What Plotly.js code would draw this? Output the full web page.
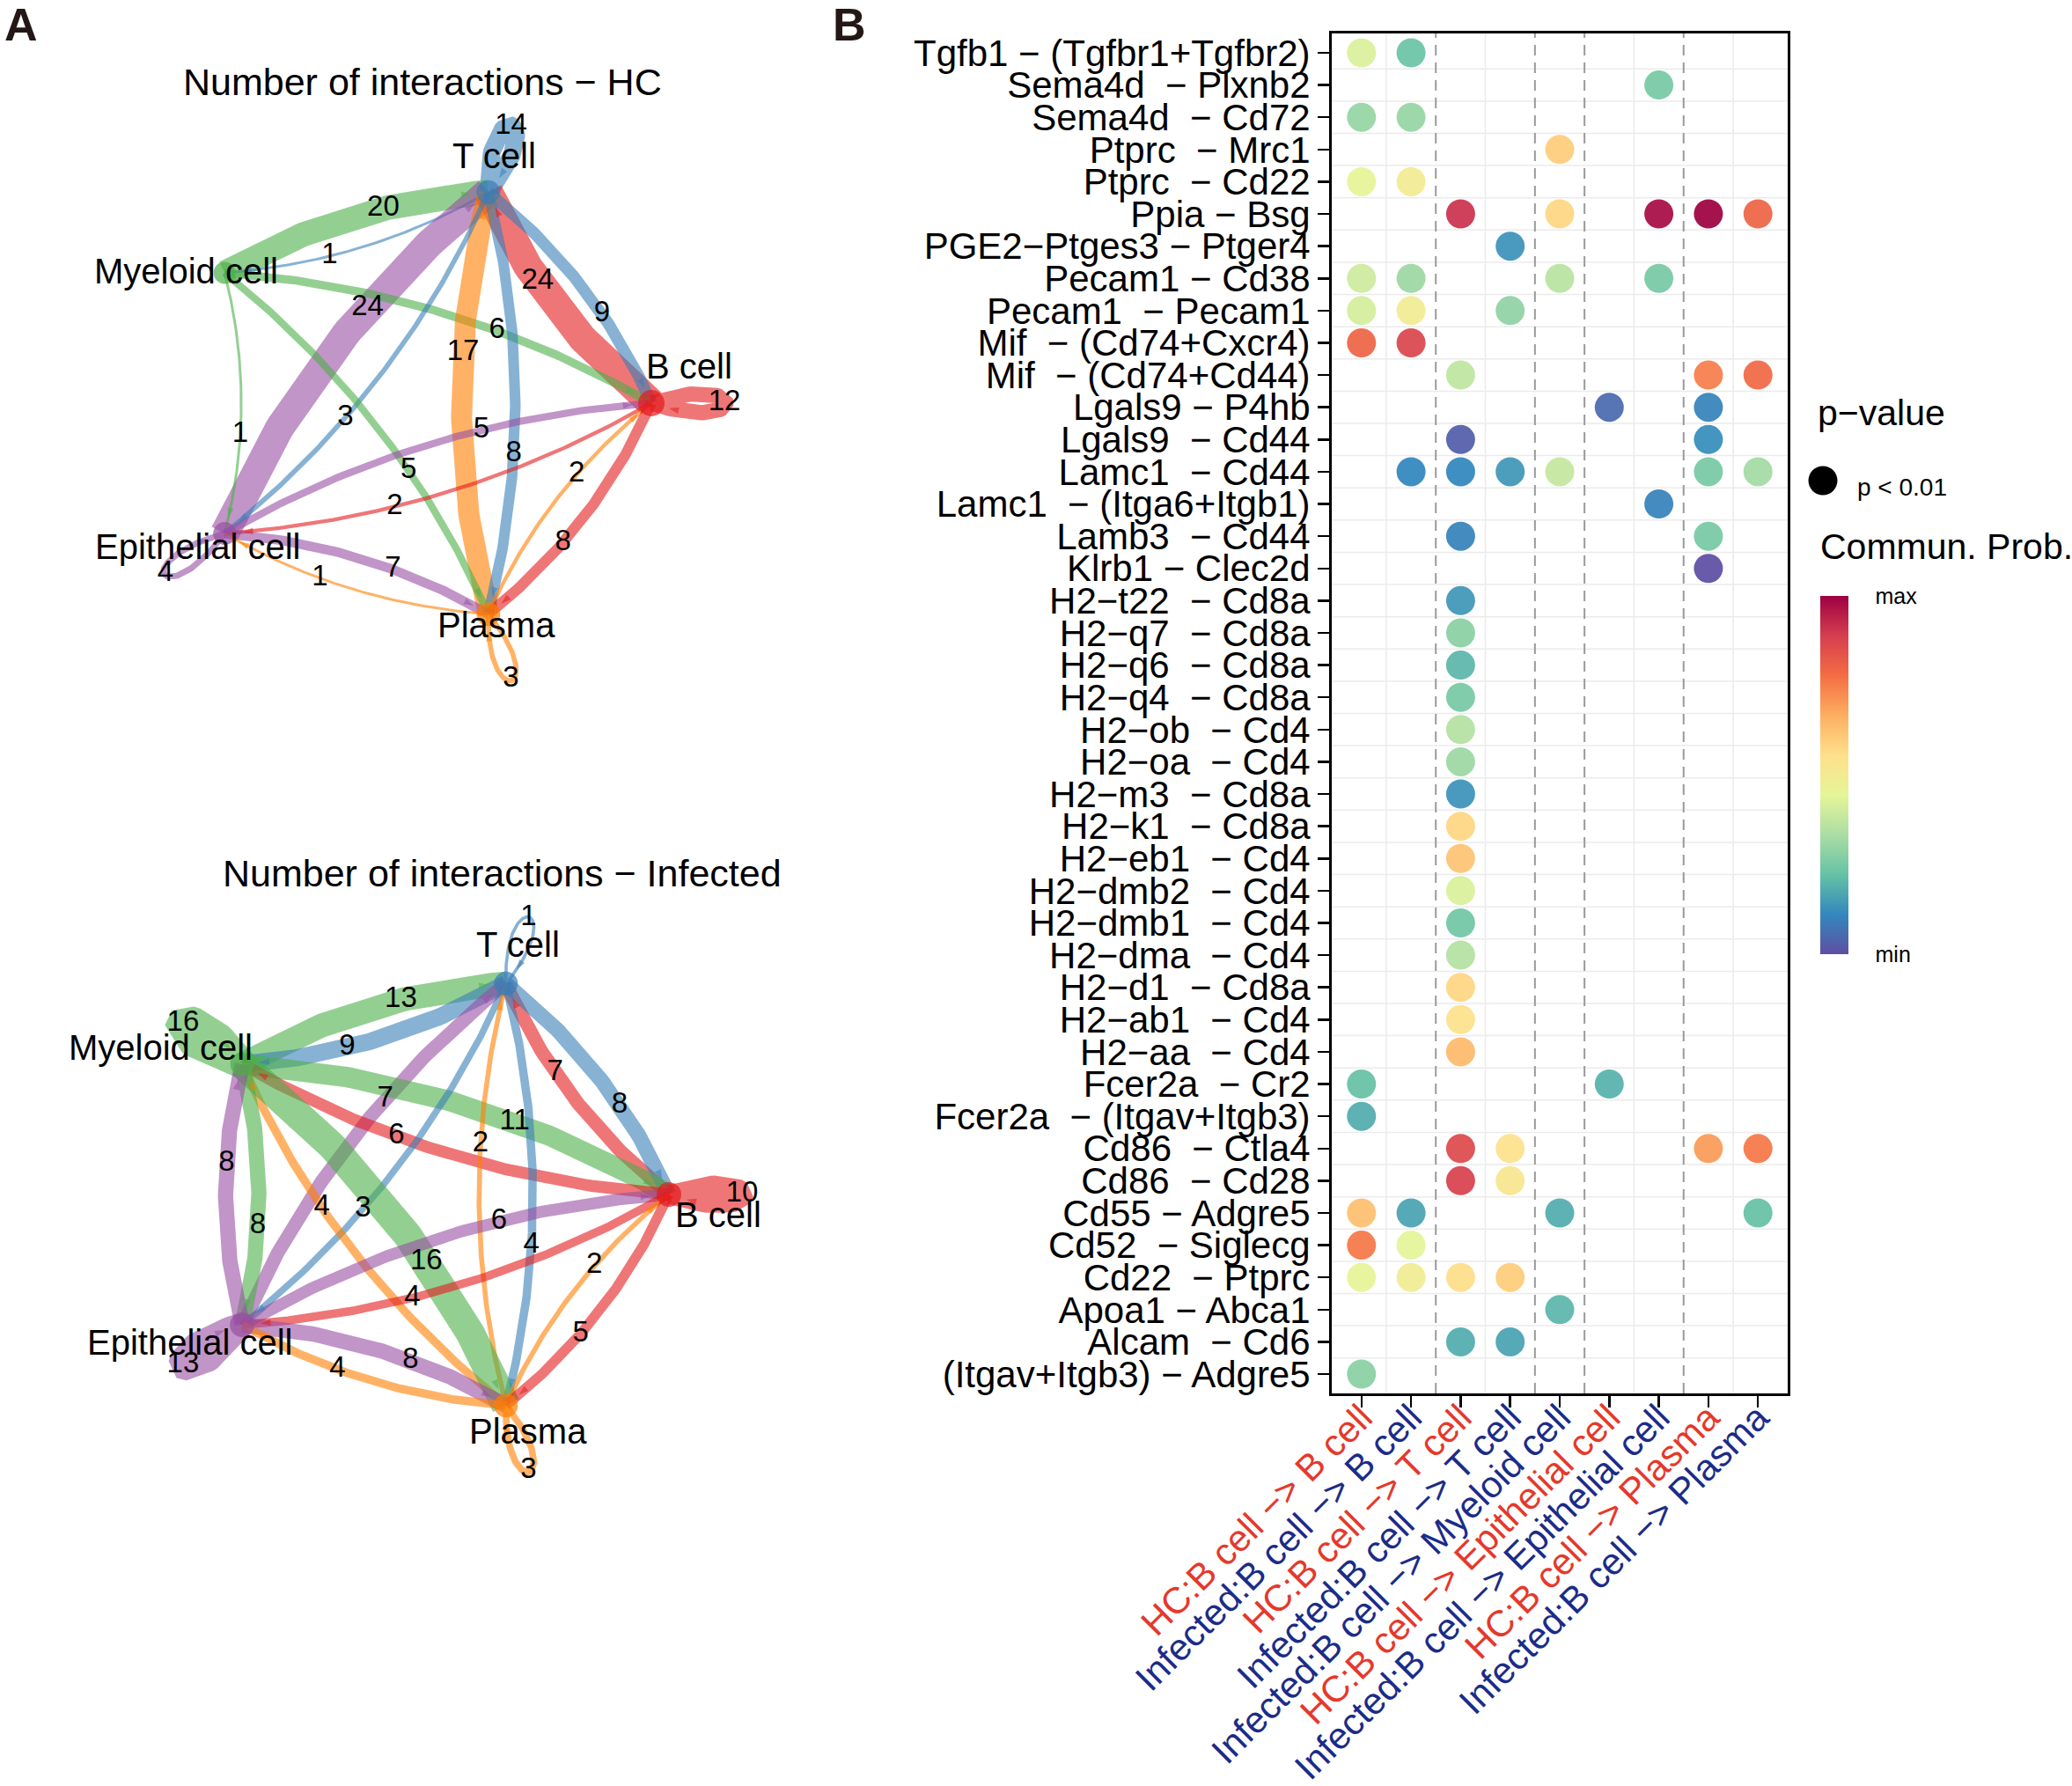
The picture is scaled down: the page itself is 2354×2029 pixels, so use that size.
<!DOCTYPE html>
<html><head><meta charset="utf-8">
<script src="https://cdn.plot.ly/plotly-3.0.1.min.js"></script>
<style>body{margin:0;background:#fff}</style>
</head><body><div id="chart" style="width:2354px;height:2029px"></div>
<script>
// ================= DATA =================
// Panel A: cell groups (circle-layout order) and their colours
const cellGroups = ["B cell", "T cell", "Myeloid cell", "Epithelial cell", "Plasma"];
const groupColors = ["#E41A1C", "#377EB8", "#4DAF4A", "#984EA3", "#FF7F00"];

// HC network: number of interactions source -> target
const hcSource = ["T cell","Myeloid cell","T cell","Epithelial cell","B cell","T cell","Myeloid cell","Plasma","T cell","Myeloid cell","T cell","Myeloid cell","Epithelial cell","B cell","Plasma","B cell","B cell","Epithelial cell","Epithelial cell","Plasma","Plasma"];
const hcTarget = ["T cell","T cell","Myeloid cell","T cell","T cell","B cell","B cell","T cell","Plasma","Epithelial cell","Epithelial cell","Plasma","B cell","Epithelial cell","B cell","Plasma","B cell","Epithelial cell","Plasma","Epithelial cell","Plasma"];
const hcCount  = [14,20,1,24,24,9,6,17,8,1,3,5,5,2,2,8,12,4,7,1,3];

// Infected network
const infSource = ["T cell","Myeloid cell","T cell","Myeloid cell","B cell","T cell","Epithelial cell","Myeloid cell","B cell","T cell","Plasma","T cell","Plasma","Myeloid cell","Myeloid cell","Epithelial cell","Epithelial cell","B cell","Plasma","B cell","Epithelial cell","Epithelial cell","Plasma","B cell","Plasma"];
const infTarget = ["T cell","T cell","Myeloid cell","Myeloid cell","T cell","B cell","T cell","B cell","Myeloid cell","Epithelial cell","T cell","Plasma","Myeloid cell","Plasma","Epithelial cell","Myeloid cell","B cell","Epithelial cell","B cell","Plasma","Epithelial cell","Plasma","Epithelial cell","B cell","Plasma"];
const infCount  = [1,13,9,16,7,8,7,11,6,3,2,4,4,16,8,8,6,4,2,5,13,8,4,10,3];

// Panel B: ligand-receptor pairs (rows, top to bottom)
const interactionPairs = [
 "Tgfb1 − (Tgfbr1+Tgfbr2)","Sema4d  − Plxnb2","Sema4d  − Cd72","Ptprc  − Mrc1","Ptprc  − Cd22",
 "Ppia − Bsg","PGE2−Ptges3 − Ptger4","Pecam1 − Cd38","Pecam1  − Pecam1","Mif  − (Cd74+Cxcr4)",
 "Mif  − (Cd74+Cd44)","Lgals9 − P4hb","Lgals9  − Cd44","Lamc1  − Cd44","Lamc1  − (Itga6+Itgb1)",
 "Lamb3  − Cd44","Klrb1 − Clec2d","H2−t22  − Cd8a","H2−q7  − Cd8a","H2−q6  − Cd8a",
 "H2−q4  − Cd8a","H2−ob  − Cd4","H2−oa  − Cd4","H2−m3  − Cd8a","H2−k1  − Cd8a",
 "H2−eb1  − Cd4","H2−dmb2  − Cd4","H2−dmb1  − Cd4","H2−dma  − Cd4","H2−d1  − Cd8a",
 "H2−ab1  − Cd4","H2−aa  − Cd4","Fcer2a  − Cr2","Fcer2a  − (Itgav+Itgb3)","Cd86  − Ctla4",
 "Cd86  − Cd28","Cd55 − Adgre5","Cd52  − Siglecg","Cd22  − Ptprc","Apoa1 − Abca1",
 "Alcam  − Cd6","(Itgav+Itgb3) − Adgre5"];
// columns: condition + target of B cell signalling
const pairCondition = ["HC","Infected","HC","Infected","Infected","HC","Infected","HC","Infected"];
const pairTarget = ["B cell","B cell","T cell","T cell","Myeloid cell","Epithelial cell","Epithelial cell","Plasma","Plasma"];
// significant dots: row index, column index, communication probability (scaled min..max = 0..1)
const dotRow = [0,0, 1, 2,2, 3, 4,4, 5,5,5,5,5, 6, 7,7,7,7, 8,8,8, 9,9, 10,10,10, 11,11, 12,12,
  13,13,13,13,13,13, 14, 15,15, 16, 17,18,19,20,21,22,23,24,25,26,27,28,29,30,31,
  32,32, 33, 34,34,34,34, 35,35, 36,36,36,36, 37,37, 38,38,38,38, 39, 40,40, 41];
const dotCol = [0,1, 6, 0,1, 4, 0,1, 2,4,6,7,8, 3, 0,1,4,6, 0,1,3, 0,1, 2,7,8, 5,7, 2,7,
  1,2,3,4,7,8, 6, 2,7, 7, 2,2,2,2,2,2,2,2,2,2,2,2,2,2,2,
  0,5, 0, 2,3,7,8, 2,3, 0,1,4,8, 0,1, 0,1,2,3, 4, 2,3, 0];
const dotProb = [0.42,0.23, 0.25, 0.30,0.30, 0.60, 0.45,0.50, 0.91,0.58,0.98,1.00,0.80, 0.13, 0.40,0.31,0.36,0.25, 0.41,0.49,0.29, 0.80,0.87, 0.37,0.75,0.79, 0.05,0.10, 0.03,0.12,
  0.11,0.11,0.14,0.38,0.25,0.32, 0.10, 0.10,0.25, 0.00, 0.14,0.28,0.20,0.25,0.35,0.31,0.13,0.58,0.62,0.42,0.24,0.35,0.58,0.55,0.64,
  0.22,0.19, 0.18, 0.86,0.55,0.70,0.76, 0.88,0.53, 0.63,0.16,0.18,0.22, 0.76,0.44, 0.45,0.49,0.56,0.60, 0.20, 0.18,0.16, 0.28];
const spectral10 = ["#9E0142","#D53E4F","#F46D43","#FDAE61","#FEE08B","#E6F598","#ABDDA4","#66C2A5","#3288BD","#5E4FA2"];

// ================= STYLE / GEOMETRY =================
const W = 2354, H = 2029;
const FONT = "Liberation Sans, Arial, Helvetica, sans-serif";
const condColor = {HC: "#E5392B", Infected: "#1B2C88"};
const nets = [
  {src:hcSource, tgt:hcTarget, cnt:hcCount, title:"Number of interactions − HC",
   cx:472, cy:458, rx:268, ry:252, top:0, bottom:930, titleX:480, titleY:93,
   nodeSize:[30,27,25,26,27],
   labelOff:[[43,-42],[7,-41],[-44,-2],[-31,15],[9,12]]},
  {src:infSource, tgt:infTarget, cnt:infCount, title:"Number of interactions − Infected",
   cx:492, cy:1357, rx:268, ry:252, top:930, bottom:2029, titleX:570, titleY:992,
   nodeSize:[28,27,27,28,27],
   labelOff:[[56,23],[14,-44],[-93,-19],[-60,20],[25,29]]}
];
const netLeft = 0, netRight = 1000;

function rgba(hex, a){const n=parseInt(hex.slice(1),16);return `rgba(${(n>>16)&255},${(n>>8)&255},${n&255},${a})`;}

const traces = [];
const arrowTraces = [];
const annotations = [];
const shapes = [];
const layoutAxes = {};

nets.forEach((net, k) => {
  const xa = "x" + (k + 2), ya = "y" + (k + 2);
  const pos = cellGroups.map((g, i) => [Math.cos(2*Math.PI*i/cellGroups.length), Math.sin(2*Math.PI*i/cellGroups.length)]);
  const maxC = Math.max(...net.cnt);
  const labX = [], labY = [], labT = [];
  net.src.forEach((s, e) => {
    const si = cellGroups.indexOf(s), ti = cellGroups.indexOf(net.tgt[e]);
    const col = groupColors[si];
    const width = 1.7 + net.cnt[e] / maxC * 31.3;
    let pts = [];
    if (si === ti) {
      const p = pos[si];
      const ang = Math.atan2(p[1], p[0]);
      const rot = (v) => [p[0] + v[0]*Math.cos(ang) - v[1]*Math.sin(ang), p[1] + v[0]*Math.sin(ang) + v[1]*Math.cos(ang)];
      const P0 = p, P1 = rot([0.42, 0.15]), P2 = rot([0.42, -0.15]), P3 = p;
      for (let i = 0; i <= 80; i++) {
        const t = i/80, u = 1-t;
        pts.push([u*u*u*P0[0]+3*u*u*t*P1[0]+3*u*t*t*P2[0]+t*t*t*P3[0], u*u*u*P0[1]+3*u*u*t*P1[1]+3*u*t*t*P2[1]+t*t*t*P3[1]]);
      }
      const tip = rot([0.31, 0]);
      labX.push(tip[0]); labY.push(tip[1]); labT.push(String(net.cnt[e]));
    } else {
      const p0 = pos[si], p1 = pos[ti];
      const dx = p1[0]-p0[0], dy = p1[1]-p0[1];
      const c = [(p0[0]+p1[0])/2 - 0.12*dy, (p0[1]+p1[1])/2 + 0.12*dx];
      const q = (t) => {const u=1-t; return [u*u*p0[0]+2*u*t*c[0]+t*t*p1[0], u*u*p0[1]+2*u*t*c[1]+t*t*p1[1]];};
      for (let i = 0; i <= 100; i++) pts.push(q(i/100));
      const lp = q(0.62);
      labX.push(lp[0]); labY.push(lp[1]); labT.push(String(net.cnt[e]));
    }
    traces.push({type:"scatter", mode:"lines", xaxis:xa, yaxis:ya,
      x: pts.map(p=>p[0]), y: pts.map(p=>p[1]), hoverinfo:"skip", cliponaxis:false,
      line:{color: rgba(col, 0.6), width: width}});
    // small arrowhead where the edge meets the target vertex
    const pt = pos[ti];
    let endI = pts.length-1;
    while (endI > 1 && Math.hypot(pts[endI][0]-pt[0], pts[endI][1]-pt[1]) < 0.065) endI--;
    arrowTraces.push({type:"scatter", mode:"markers", xaxis:xa, yaxis:ya, hoverinfo:"skip", cliponaxis:false,
      x:[pts[endI-2][0], pts[endI][0]], y:[pts[endI-2][1], pts[endI][1]],
      marker:{symbol:"arrow", angleref:"previous", size:[0, 12], color: rgba(col, 0.75), line:{width:0}}});
  });
  // vertices
  arrowTraces.push({type:"scatter", mode:"markers", xaxis:xa, yaxis:ya, hoverinfo:"skip", cliponaxis:false,
    x: pos.map(p=>p[0]), y: pos.map(p=>p[1]),
    marker:{size:net.nodeSize, color:groupColors, line:{width:0}}});
  // edge labels
  arrowTraces.push({type:"scatter", mode:"text", xaxis:xa, yaxis:ya, hoverinfo:"skip", cliponaxis:false,
    x:labX, y:labY, text:labT, textposition:"middle center", textfont:{size:33, color:"#000", family:FONT}});
  // vertex labels
  cellGroups.forEach((g, i) => {
    annotations.push({xref:xa, yref:ya, x:pos[i][0], y:pos[i][1], text:g, showarrow:false,
      xanchor:"center", yanchor:"middle", xshift:net.labelOff[i][0], yshift:-net.labelOff[i][1],
      font:{size:40, color:"#000", family:FONT}});
  });
  annotations.push({xref:"paper", yref:"paper", x:net.titleX/W, y:1-net.titleY/H, text:net.title, showarrow:false,
    xanchor:"center", yanchor:"middle", font:{size:43, color:"#000", family:FONT}});
  layoutAxes["xaxis"+(k+2)] = {domain:[netLeft/W, netRight/W], range:[(netLeft-net.cx)/net.rx, (netRight-net.cx)/net.rx],
    visible:false, fixedrange:true, anchor:ya};
  layoutAxes["yaxis"+(k+2)] = {domain:[1-net.bottom/H, 1-net.top/H], range:[(net.cy-net.bottom)/net.ry, (net.cy-net.top)/net.ry],
    visible:false, fixedrange:true, anchor:xa};
});

// ---- Panel B: bubble plot ----
const colorscale = spectral10.slice().reverse().map((c, i, a) => [i/(a.length-1), c]);
const dotTrace = {type:"scatter", mode:"markers", xaxis:"x", yaxis:"y", x:dotCol, y:dotRow, hoverinfo:"skip",
  marker:{size:33, color:dotProb, colorscale:colorscale, cmin:0, cmax:1, line:{width:0}, opacity:0.93,
    colorbar:{thickness:32, thicknessmode:"pixels", len:407/H, lenmode:"fraction",
      x:2068/W, xanchor:"left", y:1-677/H, yanchor:"top", xpad:0, ypad:0, outlinewidth:0,
      tickvals:[0,1], ticktext:["min","max"], ticks:"outside", ticklen:26, tickcolor:"rgba(0,0,0,0)",
      tickfont:{size:25, color:"#000", family:FONT}}}};

const colLabels = pairCondition.map((c, i) => `<span style="color:${condColor[c]}">${c}:B cell −&gt; ${pairTarget[i]}</span>`);
const rowLabels = interactionPairs.map(s => s.replace(/  /g, "\u00A0 "));

for (let i = 0; i < interactionPairs.length - 1; i++) {
  shapes.push({type:"line", layer:"below", xref:"x domain", yref:"y", x0:0, x1:1, y0:i+0.5, y1:i+0.5, line:{color:"#EBEBEB", width:1.5}});
}
for (let j = 0; j < pairTarget.length - 1; j++) {
  const sep = pairTarget[j] !== pairTarget[j+1];
  shapes.push({type:"line", layer:"below", xref:"x", yref:"y domain", x0:j+0.5, x1:j+0.5, y0:0, y1:1,
    line: sep ? {color:"#9A9A9A", width:2, dash:"12px,8px"} : {color:"#EBEBEB", width:1.5}});
}
shapes.push({type:"circle", xref:"paper", yref:"paper", xsizemode:"pixel", ysizemode:"pixel",
  xanchor:2071/W, yanchor:1-546/H, x0:-16.5, x1:16.5, y0:-16.5, y1:16.5, fillcolor:"#000", line:{width:0}});

annotations.push(
  {xref:"paper", yref:"paper", x:2063/W, y:1-469/H, text:"p−value", showarrow:false, xanchor:"left", yanchor:"middle", font:{size:41, color:"#000", family:FONT}},
  {xref:"paper", yref:"paper", x:2108/W, y:1-553/H, text:"p &lt; 0.01", showarrow:false, xanchor:"left", yanchor:"middle", font:{size:28, color:"#000", family:FONT}},
  {xref:"paper", yref:"paper", x:2066/W, y:1-621/H, text:"Commun. Prob.", showarrow:false, xanchor:"left", yanchor:"middle", font:{size:41, color:"#000", family:FONT}},
  {xref:"paper", yref:"paper", x:24/W, y:1-28/H, text:"<b>A</b>", showarrow:false, xanchor:"center", yanchor:"middle", font:{size:52, color:"#231815", family:FONT}},
  {xref:"paper", yref:"paper", x:965/W, y:1-28/H, text:"<b>B</b>", showarrow:false, xanchor:"center", yanchor:"middle", font:{size:52, color:"#231815", family:FONT}}
);

const layout = Object.assign({
  width: W, height: H, margin:{l:0, r:0, t:0, b:0, pad:0},
  paper_bgcolor:"#fff", plot_bgcolor:"rgba(0,0,0,0)", showlegend:false,
  font:{family:FONT, color:"#000"},
  xaxis:{domain:[1513/W, 2031/W], range:[-0.6, pairTarget.length - 0.4], anchor:"y",
    tickmode:"array", tickvals:pairTarget.map((_, i) => i), ticktext:colLabels, tickangle:-45,
    tickfont:{size:42, family:FONT}, ticks:"outside", ticklen:13, tickwidth:2.5, tickcolor:"#000", ticklabelstandoff:-30,
    showgrid:false, zeroline:false, showline:true, mirror:true, linewidth:3, linecolor:"#000", automargin:false, fixedrange:true},
  yaxis:{domain:[1-1583/H, 1-38/H], range:[interactionPairs.length - 0.4, -0.6], anchor:"x",
    tickmode:"array", tickvals:interactionPairs.map((_, i) => i), ticktext:rowLabels,
    tickfont:{size:42, family:FONT, color:"#000"}, ticks:"outside", ticklen:13, tickwidth:2.5, tickcolor:"#000",
    showgrid:false, zeroline:false, showline:true, mirror:true, linewidth:3, linecolor:"#000", automargin:false, fixedrange:true},
  shapes: shapes, annotations: annotations
}, layoutAxes);

Plotly.newPlot("chart", traces.concat(arrowTraces, [dotTrace]), layout, {staticPlot:true, displayModeBar:false});
</script></body></html>
